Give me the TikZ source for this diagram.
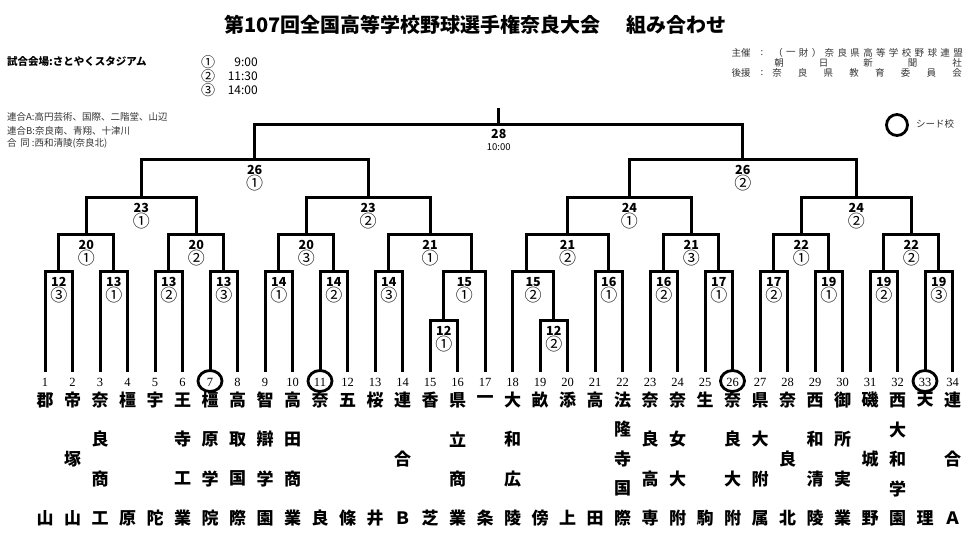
\documentclass[tikz,border=0pt]{standalone}
\usepackage{fontspec}
\newfontfamily\jp{Noto Sans CJK JP}
\newfontfamily\numserif{Liberation Serif}
\usetikzlibrary{shapes.geometric}
\tikzset{
  br/.style={line width=3pt, line join=miter, line cap=butt},
  lnum/.style={font=\jp\bfseries\fontsize{12.5}{12.5}\selectfont, inner sep=0pt},
  lcirc/.style={font=\jp\fontsize{17}{17}\selectfont, inner sep=0pt},
  tnum/.style={font=\numserif\fontsize{12.5}{12.5}\selectfont, inner sep=0pt},
  tname/.style={font=\jp\bfseries\fontsize{17}{17}\selectfont, inner sep=0pt},
  seedring/.style={draw, ellipse, line width=2.8pt, minimum width=24pt, minimum height=21pt, inner sep=0pt},
  hdr/.style={font=\jp\fontsize{9.5}{9.5}\selectfont, inner sep=0pt, text=black!80},
  tim/.style={font=\jp\fontsize{12}{12}\selectfont, inner sep=0pt},
  timc/.style={font=\jp\fontsize{14}{14}\selectfont, inner sep=0pt},
}
\begin{document}
\begin{tikzpicture}[x=1pt,y=-1pt]
\useasboundingbox (0,0) rectangle (968,533);

% title and headers
\node[font=\jp\bfseries\fontsize{20}{20}\selectfont, inner sep=0pt] (title) at (475.5,25) {第107回全国高等学校野球選手権奈良大会\hspace{1.3em}組み合わせ};
\node[anchor=west, font=\jp\bfseries\fontsize{10.5}{10.5}\selectfont, inner sep=0pt] (venue) at (7,62) {試合会場:さとやくスタジアム};
\node[timc] (k1) at (208,62) {①};
\node[timc] (k2) at (208,76) {②};
\node[timc] (k3) at (208,90) {③};
\node[anchor=east, tim] (kt1) at (258,62) {9:00};
\node[anchor=east, tim] (kt2) at (258,76) {11:30};
\node[anchor=east, tim] (kt3) at (258,90) {14:00};
\node[anchor=west, hdr] (noteA) at (7,117) {連合A:高円芸術、国際、二階堂、山辺};
\node[anchor=west, hdr] (noteB) at (7,130.5) {連合B:奈良南、青翔、十津川};
\node[anchor=west, hdr] (noteC) at (7,143.5) {合\hspace{0.4em}同\hspace{0.2em}:西和清陵(奈良北)};

\node[hdr] (spA) at (741,53) {主催};
\node[hdr] (spAc) at (762,53) {:};
\foreach \c [count=\k] in {（,一,財,）,奈,良,県,高,等,学,校,野,球,連,盟}
  \node[hdr] (spa\k) at ({778+(\k-1)*180/14},53) {\c};
\foreach \c [count=\k] in {朝,日,新,聞,社}
  \node[hdr] (spb\k) at ({779+(\k-1)*44.5},63) {\c};
\node[hdr] (spC) at (741,73) {後援};
\node[hdr] (spCc) at (762,73) {:};
\foreach \c [count=\k] in {奈,良,県,教,育,委,員,会}
  \node[hdr] (spc\k) at ({777+(\k-1)*180/7},73) {\c};

% legend
\node[draw, circle, line width=2.8pt, minimum size=21pt, inner sep=0pt] (seedkey) at (897,125) {};
\node[anchor=west, hdr] (seedtxt) at (916,124) {シード校};

% team anchor points, numbers
\foreach \i in {1,...,34} {
  \coordinate (T\i) at ({45+27.5*(\i-1)},372);
  \node[tnum] (n\i) at ({45+27.5*(\i-1)},382) {\i};
}
\foreach \i in {7,11,26,33}
  \node[seedring] (sr\i) at ({45+27.5*(\i-1)},381) {};

% team names
\foreach \i/\n/\cs in {
  1/2/{郡,山}, 2/3/{帝,塚,山}, 3/4/{奈,良,商,工}, 4/2/{橿,原}, 5/2/{宇,陀},
  6/4/{王,寺,工,業}, 7/4/{橿,原,学,院}, 8/4/{高,取,国,際}, 9/4/{智,辯,学,園},
  10/4/{高,田,商,業}, 11/2/{奈,良}, 12/2/{五,條}, 13/2/{桜,井}, 14/3/{連,合,Ｂ},
  15/2/{香,芝}, 16/4/{県,立,商,業}, 17/2/{一,条}, 18/4/{大,和,広,陵},
  19/2/{畝,傍}, 20/2/{添,上}, 21/2/{高,田}, 22/5/{法,隆,寺,国,際},
  23/4/{奈,良,高,専}, 24/4/{奈,女,大,附}, 25/2/{生,駒}, 26/4/{奈,良,大,附},
  27/4/{県,大,附,属}, 28/3/{奈,良,北}, 29/4/{西,和,清,陵}, 30/4/{御,所,実,業},
  31/3/{磯,城,野}, 32/5/{西,大,和,学,園}, 33/2/{天,理}, 34/3/{連,合,Ａ}} {
  \foreach \c [count=\k] in \cs
    \node[tname] (nm\i-\k) at ({45+27.5*(\i-1)},{400+(\k-1)*118/(\n-1)}) {\c};
}

% match points
\coordinate (A) at (443.75,320);
\coordinate (B) at (553.75,320);
\foreach \j/\x in {1/58.75,2/113.75,3/168.75,4/223.75,5/278.75,6/333.75,7/388.75,8/471.25,
  9/526.25,10/608.75,11/663.75,12/718.75,13/773.75,14/828.75,15/883.75,16/938.75}
  \coordinate (m\j) at (\x,271);
\foreach \j/\x in {1/86.25,2/196.25,3/306.25,4/430,5/567.5,6/691.25,7/801.25,8/911.25}
  \coordinate (q\j) at (\x,234);
\foreach \j/\x in {1/141.25,2/368.125,3/629.375,4/856.25}
  \coordinate (h\j) at (\x,197);
\coordinate (f1) at (254.6875,159);
\coordinate (f2) at (742.8125,159);
\coordinate (F) at (498.75,124);
\coordinate (Ftop) at (498.75,108);

% bracket lines
\draw[br] (T15) |- (A) -| (T16);
\draw[br] (T19) |- (B) -| (T20);
\foreach \j/\a/\b in {1/1/2,2/3/4,3/5/6,4/7/8,5/9/10,6/11/12,7/13/14,10/21/22,
  11/23/24,12/25/26,13/27/28,14/29/30,15/31/32,16/33/34}
  \draw[br] (T\a) |- (m\j) -| (T\b);
\draw[br] (A) |- (m8) -| (T17);
\draw[br] (T18) |- (m9) -| (B);
\foreach \j/\a/\b in {1/1/2,2/3/4,3/5/6,4/7/8,5/9/10,6/11/12,7/13/14,8/15/16}
  \draw[br] (m\a) |- (q\j) -| (m\b);
\foreach \j/\a/\b in {1/1/2,2/3/4,3/5/6,4/7/8}
  \draw[br] (q\a) |- (h\j) -| (q\b);
\draw[br] (h1) |- (f1) -| (h2);
\draw[br] (h3) |- (f2) -| (h4);
\draw[br] (f1) |- (F) -| (f2);
\draw[br] (F) -- (Ftop);

% match labels
\foreach \nm/\x/\y/\a/\b in {
  A/443.75/320/12/①, B/553.75/320/12/②,
  m1/58.75/271/12/③, m2/113.75/271/13/①, m3/168.75/271/13/②, m4/223.75/271/13/③,
  m5/278.75/271/14/①, m6/333.75/271/14/②, m7/388.75/271/14/③, m8/464.375/271/15/①,
  m9/533.125/271/15/②, m10/608.75/271/16/①, m11/663.75/271/16/②, m12/718.75/271/17/①,
  m13/773.75/271/17/②, m14/828.75/271/19/①, m15/883.75/271/19/②, m16/938.75/271/19/③,
  q1/86.25/234/20/①, q2/196.25/234/20/②, q3/306.25/234/20/③, q4/430/234/21/①,
  q5/567.5/234/21/②, q6/691.25/234/21/③, q7/801.25/234/22/①, q8/911.25/234/22/②,
  h1/141.25/197/23/①, h2/368.125/197/23/②, h3/629.375/197/24/①, h4/856.25/197/24/②,
  f1/254.6875/159/26/①, f2/742.8125/159/26/②} {
  \node[lnum] (L\nm) at ({\x},{\y+11}) {\a};
  \node[lcirc] (C\nm) at ({\x},{\y+24.5}) {\b};
}
\node[lnum] (LF) at (498.75,133.5) {28};
\node[font=\jp\fontsize{9.5}{9.5}\selectfont, inner sep=0pt] (LFt) at (498.75,147) {10:00};
\end{tikzpicture}
\end{document}
